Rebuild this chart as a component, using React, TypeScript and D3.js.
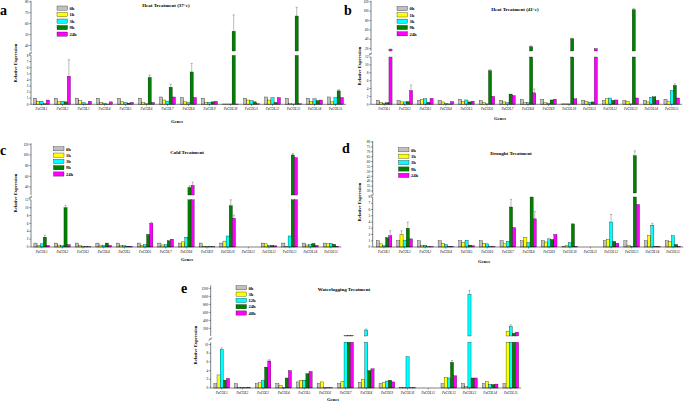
import React from "react";
import * as d3 from "d3";

const genes = ["PeCOL1","PeCOL2","PeCOL3","PeCOL4","PeCOL5","PeCOL6","PeCOL7","PeCOL8","PeCOL9","PeCOL10","PeCOL11","PeCOL12","PeCOL13","PeCOL14","PeCOL15"];
const stressSeries = ["0h","1h","3h","9h","24h"];
const waterSeries = ["0h","3h","12h","24h","48h"];
const colors = ["#c0c0c0","#ffff00","#00ffff","#008000","#ff00ff"];

// a: Heat 37
const a0h = [1, 1, 1, 1, 1, 1, 1.2, 1.1, 1, 0.05, 1, 1.2, 1, 1, 1.2];
const a1h = [0.5, 0.4, 0.6, 0.3, 0.4, 0.3, 0.7, 0.4, 0.3, 0.05, 0.7, 0.7, 0.1, 0.5, 0.4];
const a3h = [0.5, 0.5, 0.3, 0.2, 0.3, 0.1, 0.5, 0.3, 0.3, 0.05, 0.6, 1.1, 0.05, 0.9, 1.1];
const a9h = [0.1, 0.4, 0.05, 0.05, 0.2, 4.4, 2.8, 5.3, 0.4, 53, 0.4, 0.3, 67, 0.6, 2.2];
const a24h = [0.7, 4.6, 0.5, 0.4, 0.3, 0.3, 1.2, 1.1, 0.5, 0.05, 0.1, 1.1, 0.1, 0.7, 1.1];
const aErr: Record<string, number> = { "PeCOL2|24h": 2.7, "PeCOL6|9h": 0.4, "PeCOL7|9h": 0.5, "PeCOL8|9h": 1.4, "PeCOL10|9h": 15, "PeCOL13|9h": 8, "PeCOL15|9h": 0.2 };

// b: Heat 41
const b0h = [1, 1, 1, 1, 1.3, 1, 1, 1.2, 1.2, 0.1, 1, 1, 1, 1, 1.3];
const b1h = [0.5, 0.6, 1.2, 0.6, 0.8, 0.5, 0.6, 0.4, 0.4, 0.1, 0.7, 1.4, 0.8, 0.6, 0.7];
const b3h = [0.3, 0.6, 1.4, 0.3, 1.1, 0.1, 0.4, 0.4, 0.3, 0.1, 0.5, 1.6, 0.1, 1.8, 3.5];
const b9h = [0.4, 0.7, 0.5, 0.1, 0.6, 8.5, 2.6, 24, 1.1, 41, 0.6, 1, 103, 1.9, 4.8];
const b24h = [18.5, 3.5, 1.5, 0.7, 0.8, 2, 2.2, 2.9, 1.3, 1.4, 20, 1.1, 1.6, 1, 1.6];
const bErr: Record<string, number> = { "PeCOL1|24h": 1, "PeCOL2|24h": 1.4, "PeCOL6|9h": 0.3, "PeCOL8|9h": 2, "PeCOL8|24h": 1, "PeCOL10|9h": 1.5, "PeCOL13|9h": 3, "PeCOL15|9h": 0.4 };

// c: Cold
const c0h = [1, 1, 1, 1, 1, 1, 1, 1, 1, 1, 0, 1, 1, 1, 1];
const c1h = [0.4, 0.5, 0.3, 0.5, 0.4, 0.4, 0.5, 1.3, 0.2, 1.5, 0, 0.8, 0.1, 0.5, 0.8];
const c3h = [0.8, 0.3, 0.1, 0.4, 0.3, 0.6, 0.6, 2.5, 0.1, 2.8, 0, 0.4, 2.8, 0.6, 0.9];
const c9h = [2.5, 10, 0.1, 1, 0.2, 3.2, 1.6, 39, 0.1, 10.5, 0, 0.4, 100, 0.9, 0.7];
const c24h = [0.4, 0.6, 0.05, 0.4, 0.2, 6, 2, 43, 0.1, 7.3, 0, 0.3, 95, 0.4, 0.2];
const cErr: Record<string, number> = { "PeCOL2|9h": 0.6, "PeCOL6|24h": 0.3, "PeCOL8|9h": 3, "PeCOL8|24h": 6, "PeCOL10|9h": 2.3, "PeCOL10|24h": 0.8, "PeCOL13|9h": 3, "PeCOL1|9h": 0.5 };

// d: Drought
const d0h = [1, 1, 1, 1, 1, 1, 1, 1, 1, 0.1, 0, 1, 1, 1, 1];
const d1h = [0.5, 2, 0.3, 0.6, 0.7, 0.6, 0.5, 1.5, 0.8, 0.2, 0, 1.2, 0.3, 1.8, 0.9];
const d3h = [0.2, 1.1, 0.3, 0.4, 1.1, 0.5, 0.9, 0.7, 1.3, 0.7, 0, 4, 0.1, 3.5, 1.8];
const d9h = [1.5, 3, 0.05, 0.1, 0.3, 0.05, 6.4, 10, 1.2, 3.7, 0, 0.9, 66, 0.1, 0.4];
const d24h = [1.8, 1.3, 0.05, 0.1, 0.2, 0.05, 3.1, 4.5, 2, 0.1, 0, 0.6, 6.8, 0.1, 0.1];
const dErr: Record<string, number> = { "PeCOL1|24h": 0.8, "PeCOL2|1h": 0.6, "PeCOL2|9h": 1, "PeCOL7|9h": 1.2, "PeCOL8|24h": 1.2, "PeCOL12|3h": 1.2, "PeCOL13|9h": 5, "PeCOL14|3h": 0.3 };

// e: Waterlogging
const e0h = [1, 1, 1, 1, 1.4, 1, 1, 1.3, 1, 0.1, 0, 1, 1, 1, 1];
const e3h = [3, 0.1, 1.2, 0.6, 1.8, 1.4, 1.5, 2, 1.2, 0.05, 0, 2.5, 0.3, 1.5, 130];
const e12h = [8.8, 0.05, 1.7, 0.1, 1.8, 0.05, 20, 160, 1.6, 7.2, 0, 2.3, 1050, 0.8, 250];
const e24h = [1.8, 0.05, 4.8, 2.3, 3.3, 0.05, 20, 4, 1.8, 0.05, 0, 5.9, 2.3, 0.8, 80];
const e48h = [2.2, 0.2, 6.2, 4, 3.8, 0.05, 20, 4.4, 1.4, 0.1, 0, 2.8, 2.3, 0.9, 105];
const eErr: Record<string, number> = { "PeCOL1|12h": 0.4, "PeCOL3|48h": 0.3, "PeCOL12|24h": 0.4, "PeCOL13|12h": 100, "PeCOL8|12h": 25, "PeCOL15|12h": 40 };

type Cfg = {
  letter: string; lx: number; ly: number;
  title: string; tx: number; ty: number;
  series: string[]; values: number[][]; err: Record<string, number>;
  axisX: number; xr: [number, number];
  lowD: [number, number]; lowR: [number, number]; lowTicks: number[];
  upD: [number, number]; upR: [number, number]; upTicks: number[];
  legX: number; legY: number; legStep: number;
  ylabX: number; ylabY: number; gx: number; gy: number;
};

const panels: Cfg[] = [
  { letter: "a", lx: 0, ly: 15, title: "Heat Treatment (37°c)", tx: 166, ty: 7,
    series: stressSeries, values: [a0h, a1h, a3h, a9h, a24h], err: aErr,
    axisX: 31, xr: [31, 346], lowD: [0, 8], lowR: [104.3, 55.5], lowTicks: d3.range(0, 9, 1),
    upD: [35, 80], upR: [51, 1.8], upTicks: d3.range(40, 81, 10),
    legX: 57, legY: 6, legStep: 6.5, ylabX: 17, ylabY: 63, gx: 177, gy: 123 },
  { letter: "b", lx: 344, ly: 15, title: "Heat Treatment (41°c)", tx: 515, ty: 11,
    series: stressSeries, values: [b0h, b1h, b3h, b9h, b24h], err: bErr,
    axisX: 371, xr: [374, 682], lowD: [0, 12], lowR: [104.3, 57], lowTicks: d3.range(0, 13, 2),
    upD: [15, 120], upR: [51, 1.8], upTicks: d3.range(20, 121, 20),
    legX: 397, legY: 6.5, legStep: 6.3, ylabX: 361, ylabY: 66, gx: 500, gy: 120 },
  { letter: "c", lx: 0, ly: 155, title: "Cold Treatment", tx: 187, ty: 154,
    series: stressSeries, values: [c0h, c1h, c3h, c9h, c24h], err: cErr,
    axisX: 31, xr: [31.4, 341.3], lowD: [0, 12], lowR: [247, 199.8], lowTicks: d3.range(0, 13, 2),
    upD: [25, 120], upR: [195, 144.3], upTicks: d3.range(40, 121, 20),
    legX: 53.5, legY: 146.7, legStep: 6.3, ylabX: 17, ylabY: 193, gx: 187, gy: 261 },
  { letter: "d", lx: 342, ly: 153, title: "Drought Treatment", tx: 511, ty: 155,
    series: stressSeries, values: [d0h, d1h, d3h, d9h, d24h], err: dErr,
    axisX: 372.7, xr: [373.7, 683.3], lowD: [0, 8], lowR: [247, 197], lowTicks: d3.range(0, 9, 1),
    upD: [28, 80], upR: [193, 142], upTicks: d3.range(30, 81, 5),
    legX: 398.5, legY: 147.7, legStep: 6.4, ylabX: 361, ylabY: 202, gx: 484, gy: 263 },
  { letter: "e", lx: 181, ly: 293, title: "Waterlogging Treatment", tx: 344, ty: 291,
    series: waterSeries, values: [e0h, e3h, e12h, e24h, e48h], err: eErr,
    axisX: 210.7, xr: [211.4, 521.1], lowD: [0, 10.5], lowR: [388, 342.3], lowTicks: d3.range(0, 11, 2),
    upD: [10, 1250], upR: [336, 286.4], upTicks: d3.range(200, 1201, 200),
    legX: 236, legY: 285.7, legStep: 6.3, ylabX: 197, ylabY: 345, gx: 333, gy: 401 },
];

const FONT = "'Liberation Serif', 'DejaVu Serif', serif";

function Panel({ c }: { c: Cfg }) {
  const x = d3.scaleBand<string>().domain(genes).range(c.xr).paddingInner(0.24).paddingOuter(0.12);
  const xs = d3.scaleBand<string>().domain(c.series).range([0, x.bandwidth()]);
  const yl = d3.scaleLinear().domain(c.lowD).range(c.lowR);
  const yu = d3.scaleLinear().domain(c.upD).range(c.upR);
  const lowMax = c.lowD[1];
  const upMin = c.upD[0];
  const yOf = (v: number) => (v <= lowMax ? yl(v) : v >= upMin ? yu(v) : yl(lowMax));
  const y0 = yl(0);
  const breakMid = (c.lowR[1] + c.upR[0]) / 2;

  const bars: React.ReactNode[] = [];
  const errs: React.ReactNode[] = [];
  genes.forEach((g, gi) => {
    c.series.forEach((s, si) => {
      const v = c.values[si][gi];
      if (v <= 0) return;
      const bx = (x(g) as number) + (xs(s) as number);
      const bw = xs.bandwidth();
      const lowTop = yl(Math.min(v, lowMax));
      bars.push(<rect key={`l${gi}-${si}`} x={bx} y={lowTop} width={bw} height={y0 - lowTop} fill={colors[si]} stroke="#000" strokeWidth={0.3} />);
      if (v > upMin) {
        const uTop = yu(v);
        bars.push(<rect key={`u${gi}-${si}`} x={bx} y={uTop} width={bw} height={c.upR[0] - uTop} fill={colors[si]} stroke="#000" strokeWidth={0.3} />);
      }
      const e = c.err[`${g}|${s}`];
      if (e) {
        const cx = bx + bw / 2;
        const yt = yOf(v + e);
        const yb = yOf(v);
        errs.push(
          <g key={`e${gi}-${si}`} stroke="#555" strokeWidth={0.4}>
            <line x1={cx} x2={cx} y1={yb} y2={yt} />
            <line x1={cx - bw * 0.35} x2={cx + bw * 0.35} y1={yt} y2={yt} />
          </g>
        );
      }
    });
  });

  return (
    <g>
      <text x={c.lx} y={c.ly} fontSize={14} fontWeight="bold" fontFamily={FONT}>{c.letter}</text>
      <text x={c.tx} y={c.ty} fontSize={5} fontWeight="bold" textAnchor="middle" fontFamily={FONT}>{c.title}</text>
      {bars}
      {errs}
      {/* y axis */}
      <line x1={c.axisX} x2={c.axisX} y1={y0} y2={c.lowR[1]} stroke="#000" strokeWidth={0.5} />
      <line x1={c.axisX} x2={c.axisX} y1={c.upR[0]} y2={c.upR[1] - 1} stroke="#000" strokeWidth={0.5} />
      <g stroke="#000" strokeWidth={0.4}>
        <line x1={c.axisX - 2} x2={c.axisX + 1} y1={breakMid + 1.5} y2={breakMid - 0.5} />
        <line x1={c.axisX - 2} x2={c.axisX + 1} y1={breakMid + 0.5} y2={breakMid - 1.5} />
      </g>
      {c.lowTicks.map((t) => (
        <g key={`lt${t}`}>
          <line x1={c.axisX - 1.8} x2={c.axisX} y1={yl(t)} y2={yl(t)} stroke="#000" strokeWidth={0.4} />
          <text x={c.axisX - 2.5} y={yl(t) + 1.2} fontSize={3.4} textAnchor="end" fontFamily={FONT}>{t}</text>
        </g>
      ))}
      {c.upTicks.map((t) => (
        <g key={`ut${t}`}>
          <line x1={c.axisX - 1.8} x2={c.axisX} y1={yu(t)} y2={yu(t)} stroke="#000" strokeWidth={0.4} />
          <text x={c.axisX - 2.5} y={yu(t) + 1.2} fontSize={3.4} textAnchor="end" fontFamily={FONT}>{t}</text>
        </g>
      ))}
      {/* x axis */}
      <line x1={c.axisX} x2={c.xr[1]} y1={y0} y2={y0} stroke="#000" strokeWidth={0.5} />
      {genes.map((g) => {
        const cx = (x(g) as number) + x.bandwidth() / 2;
        return (
          <g key={`xt${g}`}>
            <line x1={cx} x2={cx} y1={y0} y2={y0 + 1.5} stroke="#000" strokeWidth={0.4} />
            <text x={cx} y={y0 + 5.5} fontSize={3.4} fontStyle="italic" textAnchor="middle" fontFamily={FONT}>{g}</text>
          </g>
        );
      })}
      <text x={c.gx} y={c.gy} fontSize={4.6} fontWeight="bold" textAnchor="middle" fontFamily={FONT}>Genes</text>
      <text transform={`translate(${c.ylabX},${c.ylabY}) rotate(-90)`} fontSize={4.6} fontWeight="bold" textAnchor="middle" fontFamily={FONT}>Relative Expression</text>
      {/* legend */}
      {c.series.map((s, i) => (
        <g key={`lg${s}`}>
          <rect x={c.legX} y={c.legY + i * c.legStep} width={10.5} height={4.2} fill={colors[i]} stroke="#000" strokeWidth={0.3} />
          <text x={c.legX + 12.5} y={c.legY + i * c.legStep + 3.8} fontSize={4.6} fontWeight="bold" fontFamily={FONT}>{s}</text>
        </g>
      ))}
    </g>
  );
}

export default function App() {
  return (
    <svg width={685} height={403} style={{ position: "absolute", left: 0, top: 0, background: "#fff" }}>
      <rect width={685} height={403} fill="#fff" />
      {panels.map((p) => (
        <Panel key={p.letter} c={p} />
      ))}
    </svg>
  );
}
